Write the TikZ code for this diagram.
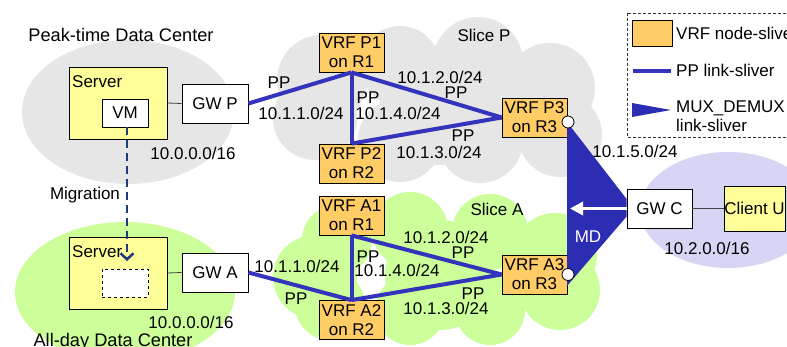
\documentclass[tikz,border=0pt]{standalone}
\usepackage{fontspec}
\setmainfont{Liberation Sans}
\usetikzlibrary{arrows.meta}

\definecolor{dcgray}{HTML}{E6E6E6}
\definecolor{dcgreen}{HTML}{CCFF99}
\definecolor{clientblue}{HTML}{D6D6F4}
\definecolor{srvyellow}{HTML}{FFFF99}
\definecolor{vrforange}{HTML}{FFCC66}
\definecolor{linkblue}{HTML}{3333BB}
\definecolor{mdblue}{HTML}{2D2DB3}
\definecolor{migblue}{HTML}{1F3A80}

\begin{document}
\begin{tikzpicture}[x=1pt,y=-1pt,
  font=\fontsize{17}{19}\selectfont,
  vrf/.style={draw=black,line width=0.8pt,fill=vrforange,minimum width=65pt,
    minimum height=39pt,inner sep=0pt,align=center},
  gw/.style={draw=black,line width=0.8pt,fill=white,minimum width=66pt,
    minimum height=39pt,inner sep=0pt},
  srv/.style={draw=black,line width=0.8pt,fill=srvyellow,minimum width=98pt,
    minimum height=72pt,inner sep=0pt},
  vmbox/.style={draw=black,line width=0.8pt,fill=white,minimum width=46pt,
    minimum height=28pt,inner sep=0pt},
  lbl/.style={inner sep=0pt,text height=12.2pt,text depth=0pt},
  pplink/.style={draw=linkblue,line width=4pt},
  thin/.style={draw=black!75,line width=0.8pt},
  port/.style={circle,draw=black,line width=0.8pt,fill=white,minimum size=12pt,inner sep=0pt},
]
\useasboundingbox (0,0) rectangle (787,347);
\clip (0,0) rectangle (787,347);

% data centre areas
\fill[dcgray] (128,112) ellipse [x radius=106, y radius=72];
\fill[dcgreen] (125,292) ellipse [x radius=110, y radius=70];
\fill[clientblue] (728,210) ellipse [x radius=88, y radius=58];

% slice P cloud
\fill[dcgray]
  (322,80) circle (45) (400,66) circle (40) (478,62) circle (45)
  (550,88) circle (45) (560,135) circle (42) (480,140) circle (43)
  (400,140) circle (42) (315,118) circle (42) (440,105) circle (60);

% slice A cloud
\fill[dcgreen]
  (315,277) circle (42) (337,240) circle (35) (410,230) circle (38)
  (490,232) circle (38) (555,255) circle (42) (560,290) circle (40)
  (490,310) circle (35) (410,310) circle (35) (330,305) circle (35)
  (440,275) circle (55);

% titles
\node[lbl] at (121,35) {\fontsize{18.2}{20}\selectfont Peak-time Data Center};
\node[lbl] at (113,340) {\fontsize{18.2}{20}\selectfont All-day Data Center};
\node[lbl] at (484,35) {Slice P};
\node[lbl] at (497,209) {Slice A};

% servers and gateways
\node[srv] (srvP) at (118,103) {};
\node[lbl,anchor=west] at (72,81) {Server};
\node[vmbox] (VM) at (125,113) {VM};
\node[srv] (srvA) at (118,273) {};
\node[lbl,anchor=west] at (72,251) {Server};
\node[vmbox,dashed] (VMslot) at (125,283) {};

\node[gw] (GWP) at (215,103.5) {GW P};
\node[gw] (GWA) at (215,272.5) {GW A};
\node[gw,minimum width=65pt] (GWC) at (659.5,208.5) {GW C};
\node[srv,minimum width=61pt,minimum height=45pt] (CU) at (754.5,208.5) {Client U};

\draw[thin] (srvP.east) -- (GWP.west);
\draw[thin] (srvA.east) -- (GWA.west);
\draw[thin] (GWC.east) -- (CU.west);

% VRF node slivers
\node[vrf] (P1) at (351.5,52.5) {VRF P1\\on R1};
\node[vrf] (P2) at (351.5,163.5) {VRF P2\\on R2};
\node[vrf] (P3) at (534.5,117.5) {VRF P3\\on R3};
\node[vrf] (A1) at (351.5,215.5) {VRF A1\\on R1};
\node[vrf] (A2) at (351.5,320) {VRF A2\\on R2};
\node[vrf] (A3) at (534.5,274.5) {VRF A3\\on R3};

% PP link slivers
\draw[pplink] (GWP.east) -- (P1.south);
\draw[pplink] (P1.south) -- (P2.north);
\draw[pplink] (P1.south) -- (P3.west);
\draw[pplink] (P2.north) -- (P3.west);
\draw[pplink] (GWA.east) -- (A2.north);
\draw[pplink] (A1.south) -- (A2.north);
\draw[pplink] (A1.south) -- (A3.west);
\draw[pplink] (A2.north) -- (A3.west);

% MUX_DEMUX link sliver
\path (GWC.west) ++(0,-9.5) coordinate (mdUp);
\path (GWC.west) ++(0,8) coordinate (mdLow);
\coordinate (mdTop) at (567,122);
\coordinate (mdBot) at (567,286);
\fill[mdblue] (mdTop) -- (mdUp) -- (mdLow) -- (mdBot) -- cycle;
\node[port] (P3port) at (568,122) {};
\node[port] (A3port) at (568,274.5) {};
\coordinate (mdTip) at (570,208.5);
\draw[white,line width=3.5pt,-{Triangle[length=13pt,width=13pt]}] (GWC.west) -- (mdTip);
\node[lbl,white] at (588,236) {MD};

% migration
\coordinate (migEnd) at (127,261);
\draw[migblue,line width=2.5pt,dash pattern=on 8pt off 5pt,
  -{Straight Barb[length=6pt,width=13pt]}] (VM.south -| migEnd) -- (migEnd);
\node[lbl] at (85,193) {Migration};

% address labels, slice P
\node[lbl] at (279,82) {PP};
\node[lbl] at (301,113) {10.1.1.0/24};
\node[lbl] at (368,97) {PP};
\node[lbl] at (398,113) {10.1.4.0/24};
\node[lbl] at (440,77) {10.1.2.0/24};
\node[lbl] at (456,92) {PP};
\node[lbl] at (463,135) {PP};
\node[lbl] at (439,152) {10.1.3.0/24};

% address labels, slice A
\node[lbl] at (297,266) {10.1.1.0/24};
\node[lbl] at (296,298) {PP};
\node[lbl] at (368,256) {PP};
\node[lbl] at (397,270) {10.1.4.0/24};
\node[lbl] at (446,237) {10.1.2.0/24};
\node[lbl] at (463,252) {PP};
\node[lbl] at (473,293) {PP};
\node[lbl] at (446,308) {10.1.3.0/24};

% other addresses
\node[lbl] at (193,153) {10.0.0.0/16};
\node[lbl] at (191,322) {10.0.0.0/16};
\node[lbl] at (635,151) {10.1.5.0/24};
\node[lbl] at (707,248) {10.2.0.0/16};

% legend
\draw[black!80,line width=0.8pt,dash pattern=on 3pt off 2pt] (627,13) rectangle (800,137);
\node[draw=black,line width=0.8pt,fill=vrforange,minimum width=40pt,minimum height=26pt,inner sep=0pt] (legNode) at (652,33) {};
\node[lbl,anchor=west] at (676,33) {VRF node-sliver};
\coordinate (legLineA) at (633,71);
\coordinate (legLineB) at (671,71);
\draw[pplink] (legLineA) -- (legLineB);
\node[lbl,anchor=west] at (676,70) {PP link-sliver};
\fill[mdblue] (632,103) -- (632,117) -- (671,110) -- cycle;
\node[lbl,anchor=west] at (676,106) {MUX\_DEMUX};
\node[lbl,anchor=west] at (676,125) {link-sliver};
\end{tikzpicture}
\end{document}
